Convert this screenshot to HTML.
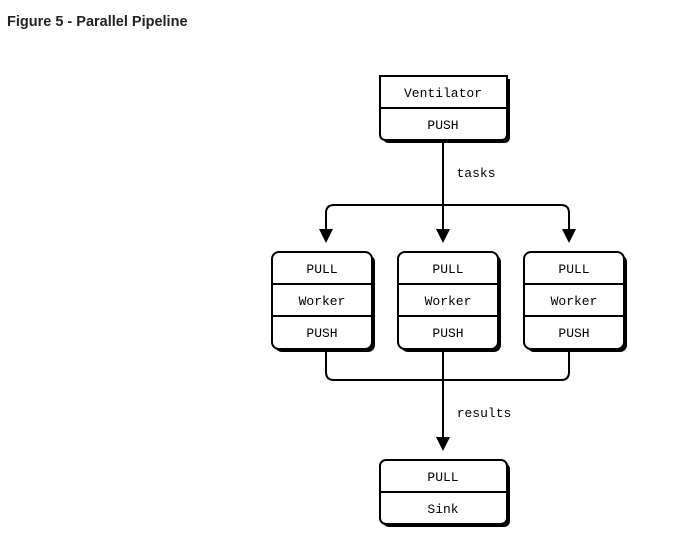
<!DOCTYPE html>
<html><head><style>
body{margin:0;background:#fff;width:679px;height:552px;overflow:hidden}
.t{position:absolute;left:7px;top:14px;font:bold 14.5px "Liberation Sans",sans-serif;color:#222}
</style></head><body>
<div class="t">Figure 5 - Parallel Pipeline</div>
<svg width="679" height="552" style="position:absolute;left:0;top:0" font-family="Liberation Mono, monospace" font-size="13" text-anchor="middle">
<defs>
<g id="w">
<rect x="3" y="3" width="100" height="97" rx="7" fill="#000"/>
<rect x="0" y="0" width="100" height="97" rx="7" fill="#fff" stroke="#000" stroke-width="2"/>
<line x1="0" y1="32" x2="100" y2="32" stroke="#000" stroke-width="2"/>
<line x1="0" y1="64" x2="100" y2="64" stroke="#000" stroke-width="2"/>
<text x="50" y="21">PULL</text><text x="50" y="53">Worker</text><text x="50" y="85">PUSH</text>
</g>
</defs>
<g stroke="#000" stroke-width="2" fill="none">
<line x1="443" y1="140" x2="443" y2="230"/>
<path d="M326 230 V213 Q326 205 334 205 H561 Q569 205 569 213 V230"/>
<path d="M326 349 V372 Q326 380 334 380 H561 Q569 380 569 372 V349"/>
<line x1="443" y1="349" x2="443" y2="438"/>
</g>
<g fill="#000">
<polygon points="319,229 333,229 326,243"/>
<polygon points="436,229 450,229 443,243"/>
<polygon points="562,229 576,229 569,243"/>
<polygon points="436,437 450,437 443,451"/>
</g>
<text x="476" y="177">tasks</text>
<text x="484" y="417">results</text>
<path d="M383 79 H510 V137 Q510 143 504 143 H389 Q383 143 383 137 Z" fill="#000"/>
<path d="M380 76 H507 V134 Q507 140 501 140 H386 Q380 140 380 134 Z" fill="#fff" stroke="#000" stroke-width="2"/>
<line x1="380" y1="108" x2="507" y2="108" stroke="#000" stroke-width="2"/>
<text x="443" y="97">Ventilator</text><text x="443" y="129">PUSH</text>
<use href="#w" x="272" y="252"/>
<use href="#w" x="398" y="252"/>
<use href="#w" x="524" y="252"/>
<rect x="383" y="463" width="127" height="64" rx="6" fill="#000"/>
<rect x="380" y="460" width="127" height="64" rx="6" fill="#fff" stroke="#000" stroke-width="2"/>
<line x1="380" y1="492" x2="507" y2="492" stroke="#000" stroke-width="2"/>
<text x="443" y="481">PULL</text><text x="443" y="513">Sink</text>
</svg>
</body></html>
